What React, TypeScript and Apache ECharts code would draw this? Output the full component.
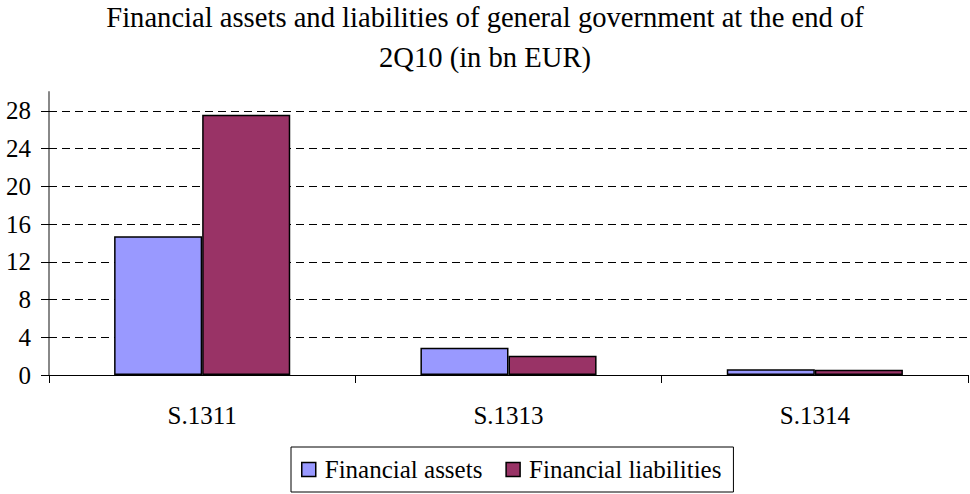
import React, { useEffect, useRef } from "react";
import * as echarts from "echarts";

const titleText =
  "Financial assets and liabilities of general government at the end of\n2Q10 (in bn EUR)";
const categories = ["S.1311", "S.1313", "S.1314"];
const financialAssets = [14.7, 2.9, 0.6];
const financialLiabilities = [27.6, 2.05, 0.55];
const yTicks = [0, 4, 8, 12, 16, 20, 24, 28];
const yMin = 0;
const yMax = 30;

const FONT = "Liberation Serif";

export default function App() {
  const ref = useRef<HTMLDivElement>(null);

  useEffect(() => {
    const chart = echarts.init(ref.current as HTMLDivElement, null, { renderer: "svg" });
    chart.setOption({
      animation: false,
      backgroundColor: "#ffffff",
      textStyle: { fontFamily: FONT },
      title: {
        text: titleText,
        left: "center",
        top: -3,
        padding: 0,
        textStyle: {
          fontFamily: FONT,
          fontSize: 28.6,
          fontWeight: "normal",
          color: "#000",
          lineHeight: 40,
        },
      },
      legend: {
        left: 291,
        top: 447,
        orient: "horizontal",
        padding: [10, 12, 10, 10],
        itemWidth: 14,
        itemHeight: 14,
        itemGap: 23,
        icon: "rect",
        borderColor: "#000",
        borderWidth: 1,
        itemStyle: { borderColor: "#000", borderWidth: 1.5 },
        textStyle: {
          fontFamily: FONT,
          fontSize: 25,
          color: "#000",
          padding: [0, 0, 0, 4],
        },
        data: ["Financial assets", "Financial liabilities"],
      },
      grid: {
        left: 49,
        right: 2,
        top: 92,
        bottom: 119,
        containLabel: false,
        outerBoundsMode: "none",
      },
      xAxis: {
        type: "category",
        data: categories,
        axisLine: { show: true, lineStyle: { color: "#000", width: 1 } },
        axisTick: { show: true, length: 8, alignWithLabel: false, lineStyle: { color: "#000" } },
        axisLabel: { fontFamily: FONT, fontSize: 25, color: "#000", margin: 28 },
        splitLine: { show: false },
      },
      yAxis: {
        type: "value",
        min: yMin,
        max: yMax,
        axisLine: { show: true, lineStyle: { color: "#888", width: 2 } },
        axisTick: { show: true, length: 8, customValues: yTicks, lineStyle: { color: "#000" } },
        axisLabel: {
          customValues: yTicks,
          fontFamily: FONT,
          fontSize: 25,
          color: "#000",
          margin: 18,
        },
        splitLine: { show: false },
      },
      series: [
        {
          name: "Financial assets",
          type: "bar",
          data: financialAssets,
          barGap: "0%",
          barCategoryGap: "42.5%",
          z: 2,
          itemStyle: { color: "#9999FF", borderColor: "#000", borderWidth: 1.5 },
          emphasis: { disabled: true },
          markLine: {
            silent: true,
            z: 1,
            symbol: ["none", "none"],
            label: { show: false },
            lineStyle: { color: "#000", type: [8, 5], width: 1 },
            data: yTicks.filter((v) => v > 0).map((v) => ({ yAxis: v })),
          },
        },
        {
          name: "Financial liabilities",
          type: "bar",
          data: financialLiabilities,
          barGap: "0%",
          barCategoryGap: "42.5%",
          z: 2,
          itemStyle: { color: "#993366", borderColor: "#000", borderWidth: 1.5 },
          emphasis: { disabled: true },
        },
      ],
    });
    return () => chart.dispose();
  }, []);

  return (
    <div
      ref={ref}
      style={{ position: "absolute", left: 0, top: 0, width: 970, height: 494 }}
    />
  );
}
